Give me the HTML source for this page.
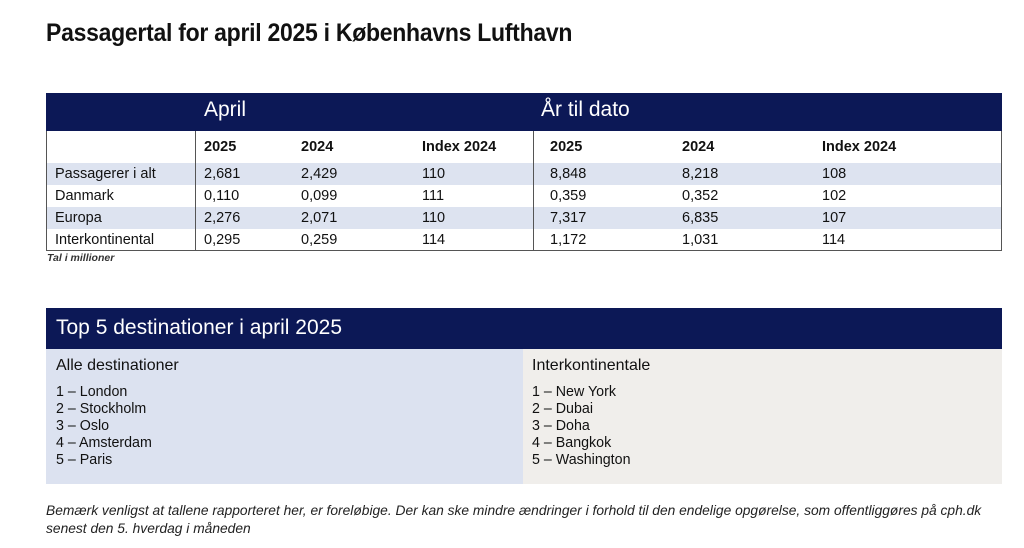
<!DOCTYPE html>
<html><head><meta charset="utf-8"><style>
*{margin:0;padding:0;box-sizing:border-box}
body{width:1024px;height:548px;background:#fff;position:relative;overflow:hidden;font-family:"Liberation Sans",sans-serif;color:#111}
.a{position:absolute;white-space:nowrap}
.navy{background:#0c1856}
.td{position:absolute;font-size:14.5px;line-height:22px}
.b{font-weight:bold}
</style></head><body>
<div class="a b" style="left:46px;top:19px;font-size:25px;letter-spacing:-0.3px;transform:scaleX(0.92);transform-origin:0 0">Passagertal for april 2025 i Københavns Lufthavn</div>

<div class="a" style="left:46px;top:93px;width:956px;height:158px;border:1px solid #555"></div>
<div class="a navy" style="left:46px;top:93px;width:956px;height:38px"></div>
<div class="a" style="left:204px;top:98px;font-size:21px;color:#fff">April</div>
<div class="a" style="left:541px;top:98px;font-size:21px;color:#fff">År til dato</div>
<div class="a" style="left:47px;top:163px;width:954px;height:22px;background:#dde3f0"></div>
<div class="a" style="left:47px;top:207px;width:954px;height:22px;background:#dde3f0"></div>
<div class="a" style="left:195px;top:131px;width:1px;height:120px;background:#555"></div>
<div class="a" style="left:533px;top:131px;width:1px;height:120px;background:#555"></div>

<div class="td b" style="left:204px;top:136px">2025</div>
<div class="td b" style="left:301px;top:136px">2024</div>
<div class="td b" style="left:422px;top:136px">Index 2024</div>
<div class="td b" style="left:550px;top:136px">2025</div>
<div class="td b" style="left:682px;top:136px">2024</div>
<div class="td b" style="left:822px;top:136px">Index 2024</div>

<div class="td" style="left:55px;top:163px">Passagerer i alt<br>Danmark<br>Europa<br>Interkontinental</div>
<div class="td" style="left:204px;top:163px">2,681<br>0,110<br>2,276<br>0,295</div>
<div class="td" style="left:301px;top:163px">2,429<br>0,099<br>2,071<br>0,259</div>
<div class="td" style="left:422px;top:163px">110<br>111<br>110<br>114</div>
<div class="td" style="left:550px;top:163px">8,848<br>0,359<br>7,317<br>1,172</div>
<div class="td" style="left:682px;top:163px">8,218<br>0,352<br>6,835<br>1,031</div>
<div class="td" style="left:822px;top:163px">108<br>102<br>107<br>114</div>
<div class="a b" style="left:47px;top:252px;font-size:10.5px;font-style:italic;color:#333">Tal i millioner</div>

<div class="a navy" style="left:46px;top:308px;width:956px;height:41px"></div>
<div class="a" style="left:56px;top:316px;font-size:21px;color:#fff">Top 5 destinationer i april 2025</div>
<div class="a" style="left:46px;top:349px;width:477px;height:135px;background:#dce2f0"></div>
<div class="a" style="left:523px;top:349px;width:479px;height:135px;background:#f0eeeb"></div>
<div class="a" style="left:56px;top:357px;font-size:16px">Alle destinationer</div>
<div class="a" style="left:56px;top:383px;font-size:15px;line-height:17px;transform:scaleX(0.95);transform-origin:0 0">1 – London<br>2 – Stockholm<br>3 – Oslo<br>4 – Amsterdam<br>5 – Paris</div>
<div class="a" style="left:532px;top:357px;font-size:16px">Interkontinentale</div>
<div class="a" style="left:532px;top:383px;font-size:15px;line-height:17px;transform:scaleX(0.95);transform-origin:0 0">1 – New York<br>2 – Dubai<br>3 – Doha<br>4 – Bangkok<br>5 – Washington</div>

<div class="a" style="left:46px;top:501px;font-size:14px;font-style:italic;line-height:18px;color:#222;transform:scaleX(0.985);transform-origin:0 0">Bemærk venligst at tallene rapporteret her, er foreløbige. Der kan ske mindre ændringer i forhold til den endelige opgørelse, som offentliggøres på cph.dk<br>senest den 5. hverdag i måneden</div>
</body></html>
